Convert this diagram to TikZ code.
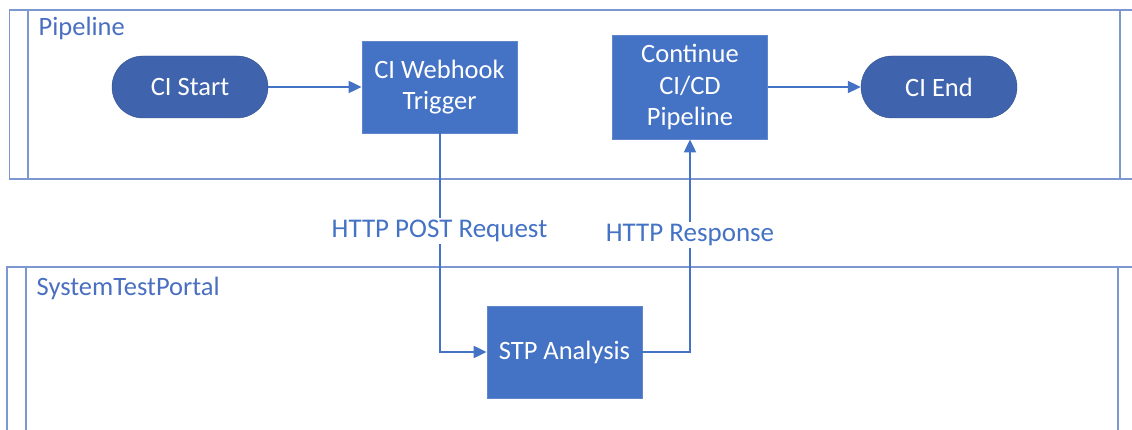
\documentclass[tikz,border=0pt]{standalone}
\usepackage{fontspec}
\setmainfont{Carlito}
\usetikzlibrary{arrows.meta}
\definecolor{boxblue}{HTML}{4472C4}
\definecolor{termblue}{HTML}{3F63AD}
\definecolor{lanecol}{HTML}{7D98D0}
\definecolor{lanetext}{HTML}{4A6FC0}
\tikzset{
  lane/.style={draw=lanecol, line width=1.6pt},
  terminal/.style={fill=termblue, draw=termblue!80!black, line width=0.4pt, rounded corners=31pt,
    minimum width=156pt, minimum height=62pt, text=white, inner sep=0pt,
    font=\fontsize{26.5}{31}\selectfont},
  process/.style={fill=boxblue, draw=boxblue!85!white, line width=0.8pt,
    minimum width=155pt, text=white, align=center, inner sep=0pt,
    font=\fontsize{26.5}{31.5}\selectfont},
  flow/.style={draw=boxblue, line width=2pt, -{Triangle[length=13pt,width=12pt]}},
  msg/.style={fill=white, text=boxblue, inner sep=2pt, font=\fontsize{27}{30}\selectfont},
  lanelabel/.style={anchor=west, text=lanetext, inner sep=0pt, font=\fontsize{26.5}{30}\selectfont}
}
\begin{document}
\begin{tikzpicture}[x=1pt,y=-1pt]
  \useasboundingbox (0,0) rectangle (1132,430);
  % swimlane frames
  \draw[lane] (1132,10) -- (9.5,10) -- (9.5,179) -- (1132,179);
  \draw[lane] (28,10) -- (28,179);
  \draw[lane] (1120,10) -- (1120,179);
  \draw[lane] (1132,267) -- (7,267) -- (7,430);
  \draw[lane] (26,267) -- (26,430);
  \draw[lane] (1118,267) -- (1118,430);
  \node[lanelabel] (plabel) at (38.5,28.5) {Pipeline};
  \node[lanelabel] (slabel) at (36.5,288.5) {SystemTestPortal};
  % flow nodes
  \node[terminal] (start) at (190,87) {CI Start};
  \node[process, minimum height=92pt] (hook) at (439.5,87) {CI Webhook\\Trigger};
  \node[process, minimum height=104pt] (cont) at (690,87) {Continue\\CI/CD\\Pipeline};
  \node[terminal] (end) at (939,87) {CI End};
  \node[process, minimum height=92pt] (stp) at (564.5,352) {STP Analysis};
  % connectors
  \draw[flow] (start) -- (hook);
  \draw[flow] (cont) -- (end);
  \coordinate (down) at (hook.south |- stp.west);
  \coordinate (up) at (cont.south |- stp.east);
  \draw[flow] (hook.south) -- (down) -- (stp.west);
  \draw[flow] (stp.east) -- (up) -- (cont.south);
  \node[msg] (req) at (439.5,231) {HTTP POST Request};
  \node[msg] (resp) at (690,235) {HTTP Response};
\end{tikzpicture}
\end{document}
